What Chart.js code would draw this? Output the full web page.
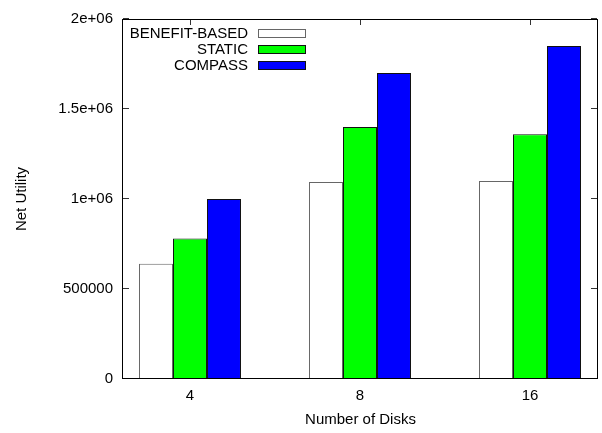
<!DOCTYPE html>
<html>
<head>
<meta charset="utf-8">
<script src="https://cdn.jsdelivr.net/npm/chart.js@4/dist/chart.umd.min.js"></script>
<style>
  html, body { margin: 0; padding: 0; background: #fff; }
</style>
</head>
<body>
<canvas id="c" width="602" height="433"></canvas>
<script>
// values
const categories = ["4", "8", "16"];
const benefitBased = [640000, 1095000, 1100000];
const staticPolicy = [780000, 1400000, 1360000];
const compass = [1000000, 1700000, 1850000];
const yTicks = [0, 500000, 1000000, 1500000, 2000000];
const yTickLabels = ["0", "500000", "1e+06", "1.5e+06", "2e+06"];

const font = { family: "'Liberation Sans', Arial, Helvetica, sans-serif", size: 15 };

// gnuplot style box with inward ticks + legend inside the plot
const gnuplotFrame = {
  id: "gnuplotFrame",
  beforeDatasetsDraw(chart) {
    const { ctx, chartArea: a, scales: { x, y } } = chart;
    ctx.save();
    ctx.strokeStyle = "#333";
    ctx.lineWidth = 1;
    ctx.beginPath();
    yTicks.forEach((v) => {
      const py = Math.round(y.getPixelForValue(v)) - 0.5;
      ctx.moveTo(a.left, py); ctx.lineTo(a.left + 6, py);
      ctx.moveTo(a.right - 1, py); ctx.lineTo(a.right - 7, py);
    });
    categories.forEach((c, i) => {
      const px = Math.round(x.getPixelForValue(i)) + 0.5;
      ctx.moveTo(px, a.top); ctx.lineTo(px, a.top + 6);
      ctx.moveTo(px, a.bottom); ctx.lineTo(px, a.bottom - 6);
    });
    ctx.stroke();
    ctx.restore();
  },
  afterDatasetsDraw(chart) {
    const { ctx, chartArea: a } = chart;
    ctx.save();
    ctx.strokeStyle = "#000";
    ctx.lineWidth = 1;
    ctx.strokeRect(a.left - 0.5, a.top + 0.5, a.right - a.left, a.bottom - a.top - 1);

    // legend
    ctx.font = `${font.size}px ${font.family}`;
    ctx.textAlign = "right";
    ctx.textBaseline = "middle";
    chart.data.datasets.forEach((ds, i) => {
      const cy = a.top + 14.5 + i * 16;
      ctx.fillStyle = "#000";
      ctx.fillText(ds.label, a.left + 125, cy);
      ctx.fillStyle = ds.backgroundColor;
      ctx.fillRect(a.left + 135.5, Math.round(cy) - 4.5, 47, 8);
      ctx.strokeStyle = ds.borderColor;
      ctx.strokeRect(a.left + 135.5, Math.round(cy) - 4.5, 47, 8);
    });
    ctx.restore();
  },
};

const toPoints = (arr) => arr.map((v, i) => ({ x: i, y: v }));

new Chart(document.getElementById("c"), {
  type: "bar",
  data: {
    datasets: [
      {
        label: "BENEFIT-BASED",
        data: toPoints(benefitBased),
        backgroundColor: "#ffffff",
        borderColor: "#666666",
        borderWidth: 1,
      },
      {
        label: "STATIC",
        data: toPoints(staticPolicy),
        backgroundColor: "#00ff00",
        borderColor: "#111111",
        borderWidth: 1,
      },
      {
        label: "COMPASS",
        data: toPoints(compass),
        backgroundColor: "#0000ff",
        borderColor: "#111111",
        borderWidth: 1,
      },
    ],
  },
  options: {
    responsive: false,
    animation: false,
    categoryPercentage: 0.6,
    barPercentage: 1.0,
    layout: { padding: { top: 12, right: 4, left: 0, bottom: 0 } },
    plugins: {
      legend: { display: false },
      tooltip: { enabled: false },
      title: { display: false },
    },
    scales: {
      x: {
        type: "linear",
        offset: false,
        min: -0.394,
        max: 2.4,
        afterBuildTicks: (s) => { s.ticks = categories.map((c, i) => ({ value: i })); },
        afterFit: (s) => { s.height = 54; },
        grid: { display: false, drawTicks: false, offset: false },
        border: { display: false },
        ticks: {
          padding: 8,
          color: "#000",
          font,
          callback: (v) => categories[v] ?? "",
        },
        title: {
          display: true,
          text: "Number of Disks",
          color: "#000",
          font,
          padding: { top: 0, bottom: 4.5 },
        },
      },
      y: {
        min: 0,
        max: 2000000,
        afterBuildTicks: (s) => { s.ticks = yTicks.map((v) => ({ value: v })); },
        afterFit: (s) => { s.width = 123; },
        grid: { display: false, drawTicks: false },
        border: { display: false },
        ticks: {
          padding: 10,
          color: "#000",
          font,
          callback: (v) => yTickLabels[yTicks.indexOf(v)],
        },
        title: {
          display: true,
          text: "Net Utility",
          color: "#000",
          font,
          padding: { top: 13, bottom: 0 },
        },
      },
    },
  },
  plugins: [gnuplotFrame],
});
</script>
</body>
</html>
